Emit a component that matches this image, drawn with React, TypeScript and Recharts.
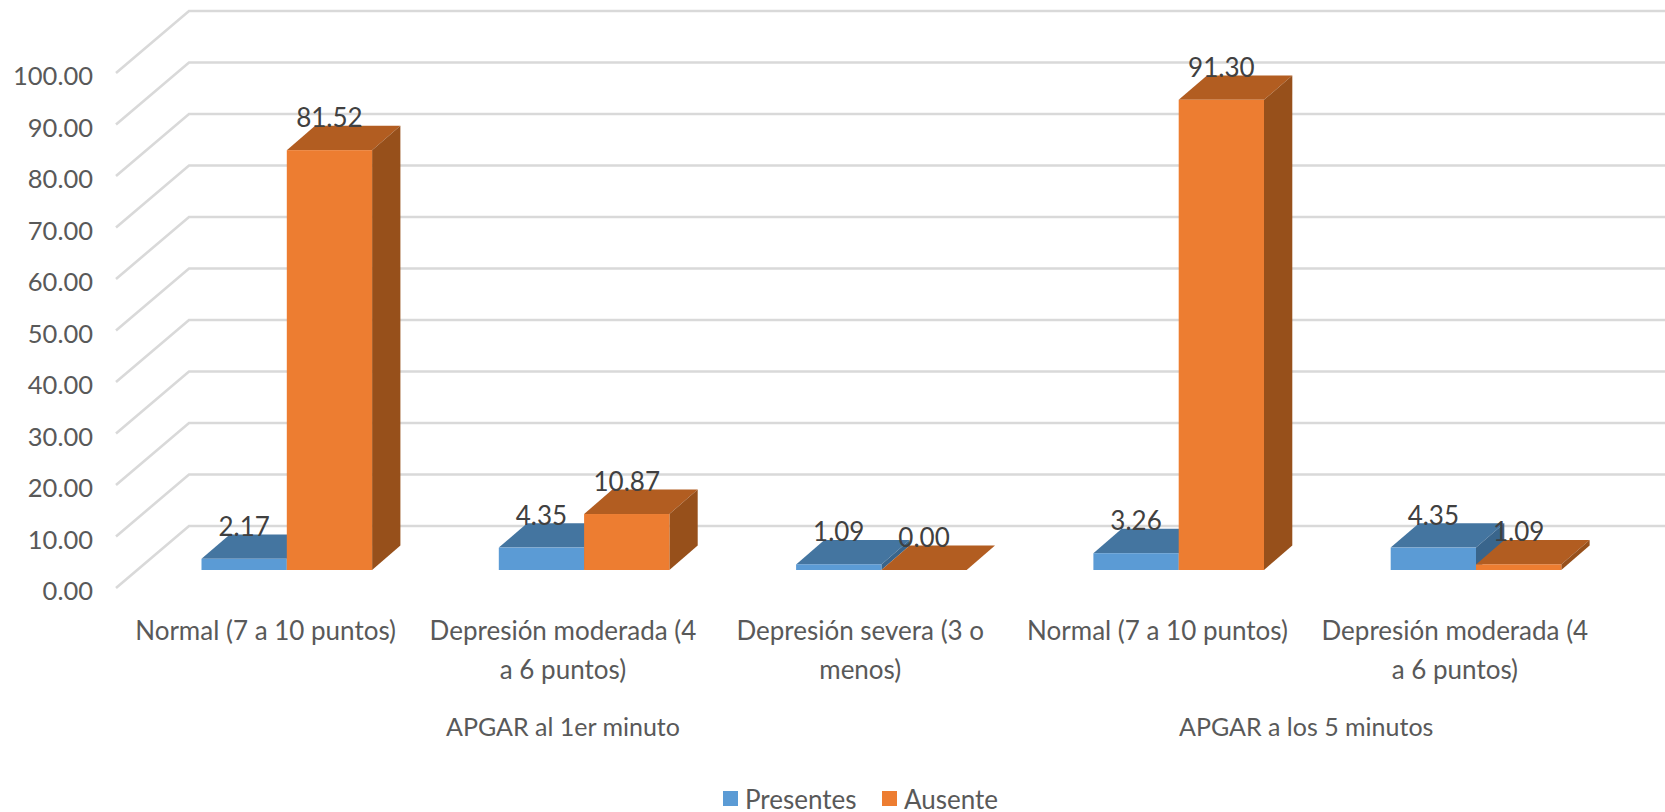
import React from "react";
import { BarChart, Bar, XAxis, YAxis, CartesianGrid, Legend, LabelList } from "recharts";

const categories = [
  ["Normal (7 a 10 puntos)"],
  ["Depresión moderada (4", "a 6 puntos)"],
  ["Depresión severa (3 o", "menos)"],
  ["Normal (7 a 10 puntos)"],
  ["Depresión moderada (4", "a 6 puntos)"],
];
const seriesNames = ["Presentes", "Ausente"];
const presentes = [2.17, 4.35, 1.09, 3.26, 4.35];
const ausente = [81.52, 10.87, 0.0, 91.3, 1.09];
const yTicks = [0, 10, 20, 30, 40, 50, 60, 70, 80, 90, 100];
const groups = [
  { label: "APGAR al 1er minuto", first: 0, count: 3 },
  { label: "APGAR a los 5 minutos", first: 3, count: 2 },
];

const data = categories.map((lines, i) => ({
  key: String(i),
  lines,
  Presentes: presentes[i],
  Ausente: ausente[i],
}));

const FONT = "Lato, sans-serif";
const FS = 26;
const TEXT = "#595959";
const BAND = 297.3;
const DX = 28.3;
const DY = 24.4;
const WALL_DX = 73;
const WALL_DY = 62;
const WALL_BACK = 44;
const BAR_W = 85.3;

const box3d = (front: string, top: string, side: string) => (p: any) => {
  const { x, y, width: w, height: h } = p;
  return (
    <g>
      <polygon points={`${x},${y} ${x + DX},${y - DY} ${x + w + DX},${y - DY} ${x + w},${y}`} fill={top} />
      <polygon points={`${x + w},${y} ${x + w + DX},${y - DY} ${x + w + DX},${y + h - DY} ${x + w},${y + h}`} fill={side} />
      <rect x={x} y={y} width={w} height={h} fill={front} />
    </g>
  );
};

const gridLine = (p: any) => {
  const back = p.y1 - WALL_BACK;
  const bx = 189;
  return (
    <polyline
      key={p.key ?? p.index}
      points={`${bx - WALL_DX},${back + WALL_DY} ${bx},${back} 1665,${back}`}
      fill="none"
      stroke="#D9D9D9"
      strokeWidth={2.6}
    />
  );
};

const YTick = (p: any) => (
  <text x={93} y={p.y + 20} textAnchor="end" dominantBaseline="central" fontFamily={FONT} fontSize={25.5} fill={TEXT}>
    {Number(p.payload.value).toFixed(2)}
  </text>
);

const XTick = (p: any) => {
  const i = p.index;
  const cx = p.x - 21.5;
  const g = groups.find((gr) => gr.first === i);
  const lines = categories[i] || [];
  return (
    <g fontFamily={FONT} fontSize={FS} fill={TEXT} textAnchor="middle">
      {lines.map((l, n) => (
        <text key={n} x={cx} y={630 + n * 38.5} dominantBaseline="central">{l}</text>
      ))}
      {g ? (
        <text x={cx + ((g.count - 1) * BAND) / 2} y={726} fontSize={25} dominantBaseline="central">{g.label}</text>
      ) : null}
    </g>
  );
};

const valueLabel = (p: any) => (
  <text
    x={p.x + p.width / 2}
    y={p.y - 33}
    textAnchor="middle"
    dominantBaseline="central"
    fontFamily={FONT}
    fontSize={FS}
    fill="#404040"
  >
    {Number(p.value).toFixed(2)}
  </text>
);

const legendContent = (p: any) => {
  const spots = [723, 882];
  return (
    <svg width={1665} height={40} style={{ display: "block" }}>
      {(p.payload || []).map((e: any) => {
        const i = seriesNames.indexOf(e.value);
        return (
          <g key={e.value}>
            <rect x={spots[i]} y={11} width={15} height={15} fill={e.color} />
            <text x={spots[i] + 22} y={19} dominantBaseline="central" fontFamily={FONT} fontSize={FS} fill={TEXT}>
              {e.value}
            </text>
          </g>
        );
      })}
    </svg>
  );
};

export default function App() {
  return (
    <div style={{ position: "absolute", left: 0, top: 0, width: 1665, height: 812 }}>
      <BarChart
        width={1665}
        height={812}
        data={data}
        barGap={0}
        barCategoryGap={0}
        margin={{ top: 55, right: 40, bottom: 0, left: 0 }}
      >
        <CartesianGrid vertical={false} horizontal={gridLine} syncWithTicks />
        <XAxis dataKey="key" height={242} axisLine={false} tickLine={false} tick={XTick} interval={0} />
        <YAxis width={138.5} domain={[0, 100]} ticks={yTicks} axisLine={false} tickLine={false} tick={YTick} interval={0} />
        <Legend
          layout="horizontal"
          verticalAlign="middle"
          align="center"
          content={legendContent}
          wrapperStyle={{ position: "absolute", left: 0, top: 780, width: 1665 }}
        />
        <Bar dataKey={seriesNames[0]} fill="#5B9BD5" barSize={BAR_W} isAnimationActive={false} shape={box3d("#5B9BD5", "#4475A0", "#39658C")}>
          <LabelList dataKey={seriesNames[0]} content={valueLabel} />
        </Bar>
        <Bar dataKey={seriesNames[1]} fill="#ED7D31" barSize={BAR_W} isAnimationActive={false} shape={box3d("#ED7D31", "#B25D21", "#97501B")}>
          <LabelList dataKey={seriesNames[1]} content={valueLabel} />
        </Bar>
      </BarChart>
    </div>
  );
}
